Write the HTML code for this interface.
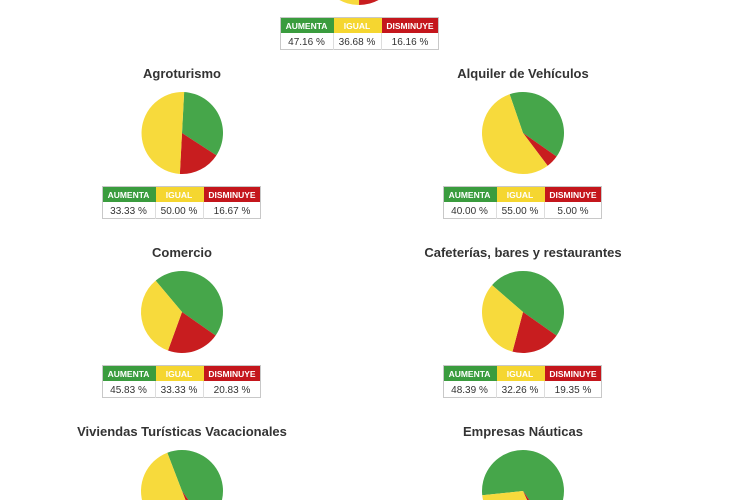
<!DOCTYPE html>
<html><head><meta charset="utf-8"><style>
html,body{margin:0;padding:0;background:#fff;overflow:hidden;width:730px;height:500px;}
svg{display:block;font-family:"Liberation Sans",Arial,sans-serif;}
</style></head><body>
<svg id="s" width="730" height="500" xmlns="http://www.w3.org/2000/svg"></svg>
<script>
var s=document.getElementById('s'),h='';
var G='#46a64a',Y='#f7da3c',R='#c81d1f';
function pt(cx,cy,r,a){a=a*Math.PI/180;return [cx+r*Math.sin(a),cy-r*Math.cos(a)];}
function arc(cx,cy,r,a0,a1,c){var p0=pt(cx,cy,r,a0),p1=pt(cx,cy,r,a1),l=(a1-a0)>180?1:0;
return '<path d="M'+cx+' '+cy+' L'+p0[0].toFixed(2)+' '+p0[1].toFixed(2)+' A'+r+' '+r+' 0 '+l+' 1 '+p1[0].toFixed(2)+' '+p1[1].toFixed(2)+' Z" fill="'+c+'"/>';}
function pie(cx,cy,st,g,rd){var r=41,a=st,b=a+g*3.6,c=b+rd*3.6;
h+=arc(cx,cy,r,a,b,G)+arc(cx,cy,r,b,c,R)+arc(cx,cy,r,c,st+360,Y);}
function table(x,y,v){var w=[53,48,58],cols=['#3a9c3e','#f5d630','#c4161c'],lab=['AUMENTA','IGUAL','DISMINUYE'],cx=x;
h+='<rect x="'+(x+.5)+'" y="'+(y+.5)+'" width="158" height="32" fill="#fff" stroke="#c8c8c8"/>';
for(var i=0;i<3;i++){h+='<rect x="'+(cx+1)+'" y="'+(y+1)+'" width="'+(w[i]-(i==2?2:0))+'" height="15" fill="'+cols[i]+'"/>';
h+='<text x="'+(cx+w[i]/2)+'" y="'+(y+12)+'" font-size="8.5" font-weight="bold" fill="#fff" text-anchor="middle">'+lab[i]+'</text>';
h+='<text x="'+(cx+w[i]/2)+'" y="'+(y+28)+'" font-size="10" fill="#333" text-anchor="middle">'+v[i]+'</text>';
if(i>0)h+='<line x1="'+(cx+.5)+'" y1="'+(y+16)+'" x2="'+(cx+.5)+'" y2="'+(y+33)+'" stroke="#ddd"/>';
cx+=w[i];}}
function title(x,y,t){h+='<text x="'+x+'" y="'+y+'" font-size="13" font-weight="bold" fill="#333" text-anchor="middle">'+t+'</text>';}
pie(359,-36,-48,47.16,16.16);
table(280,17,['47.16 %','36.68 %','16.16 %']);
title(182,78,'Agroturismo');title(523,78,'Alquiler de Vehículos');
pie(182,133,3,33.33,16.67);pie(523,133,-19,40,5);
table(102,186,['33.33 %','50.00 %','16.67 %']);table(443,186,['40.00 %','55.00 %','5.00 %']);
title(182,257,'Comercio');title(523,257,'Cafeterías, bares y restaurantes');
pie(182,312,-40,45.83,20.83);pie(523,312,-49,48.39,19.35);
table(102,365,['45.83 %','33.33 %','20.83 %']);table(443,365,['48.39 %','32.26 %','19.35 %']);
title(182,436,'Viviendas Turísticas Vacacionales');title(523,436,'Empresas Náuticas');
pie(182,491,-21,46,4);pie(523,491,-96,67,3);
s.innerHTML=h;
</script>
</body></html>
